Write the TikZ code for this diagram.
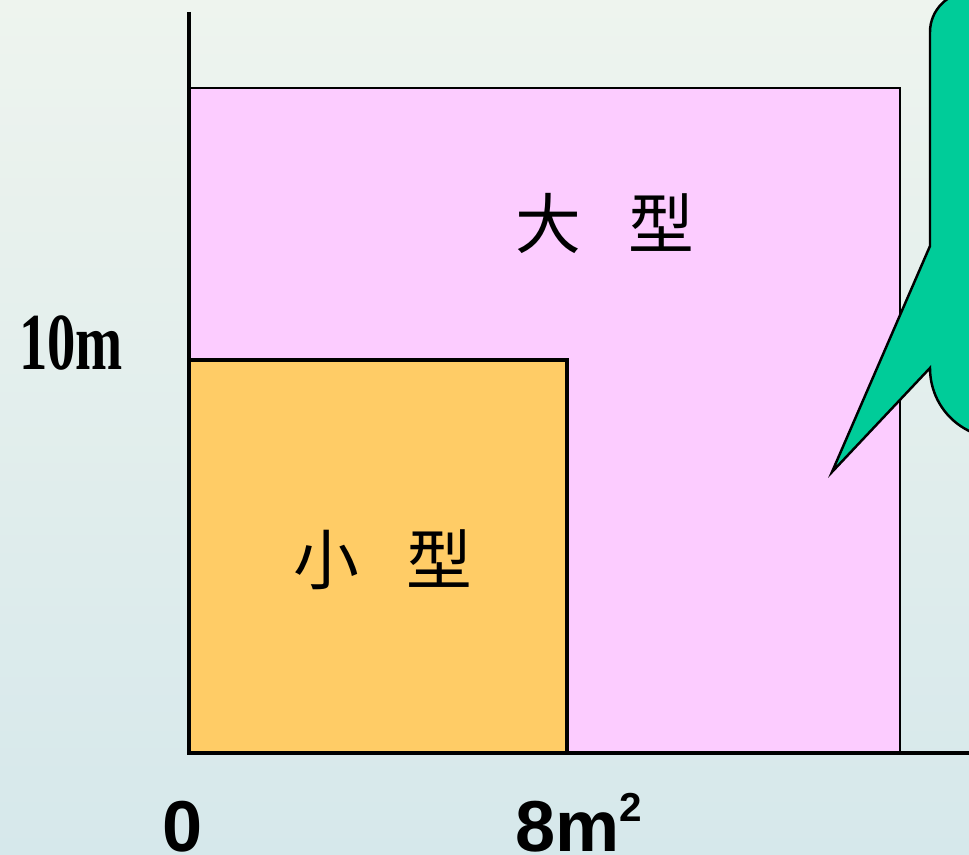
\documentclass[tikz,border=0pt]{standalone}
\usepackage{fontspec}
\newfontfamily\cjk{Noto Sans CJK TC}
\newfontfamily\numserif{Liberation Serif}
\newfontfamily\numsans{Liberation Sans}
\definecolor{bigpink}{RGB}{252,204,255}
\definecolor{smallorange}{RGB}{255,204,102}
\definecolor{bubblegreen}{RGB}{0,204,153}
\definecolor{bgtop}{RGB}{238,244,238}
\definecolor{bgmid}{RGB}{227,230,236}
\definecolor{bgbot}{RGB}{214,232,235}
\tikzset{
  axis/.style={line width=0.9pt},
  boxlbl/.style={font=\cjk\fontsize{18.7pt}{20pt}\selectfont},
  ticklbl/.style={font=\numsans\bfseries\fontsize{20.5pt}{21pt}\selectfont}
}

\begin{document}
\begin{tikzpicture}[x=0.01cm,y=-0.01cm]
			\useasboundingbox (0,0) rectangle (969,855);
			\clip (0,0) rectangle (969,855);
			\shade[top color=bgtop,middle color=bgmid,bottom color=bgbot] (0,0) rectangle (969,855);
			\coordinate (O) at (189,753);
			\coordinate (ytop) at (189,12);
			\coordinate (xend) at (975,753);
			\filldraw[fill=bigpink,line width=0.6pt] (189,88) rectangle (900,753);
			\filldraw[fill=smallorange,line width=0.9pt] (189,360) rectangle (567,753);
			\draw[axis] (ytop) -- (O) -- (xend);
			\filldraw[fill=bubblegreen,line width=0.7pt] (1000,-8) -- (970,-8)
				.. controls (948,-8) and (930,10) .. (930,32) -- (930,246) -- (832,472) -- (930,368)
				.. controls (930,407) and (961,438) .. (1000,438);
			\node[boxlbl] (big) at (605,223) {大\hspace{0.72em}型};
			\node[boxlbl] (small) at (383,560) {小\hspace{0.72em}型};
			\node[font=\numserif\bfseries\fontsize{23pt}{24pt}\selectfont] (ylbl) at (71,343) {\scalebox{0.7}[1]{10m}};
			\node[ticklbl,anchor=base] (zero) at (183,852) {0};
			\node[ticklbl,anchor=base] (eight) at (579,852) {8m\raisebox{0.3cm}{\fontsize{11.5pt}{12pt}\selectfont 2}};
\end{tikzpicture}
\end{document}
